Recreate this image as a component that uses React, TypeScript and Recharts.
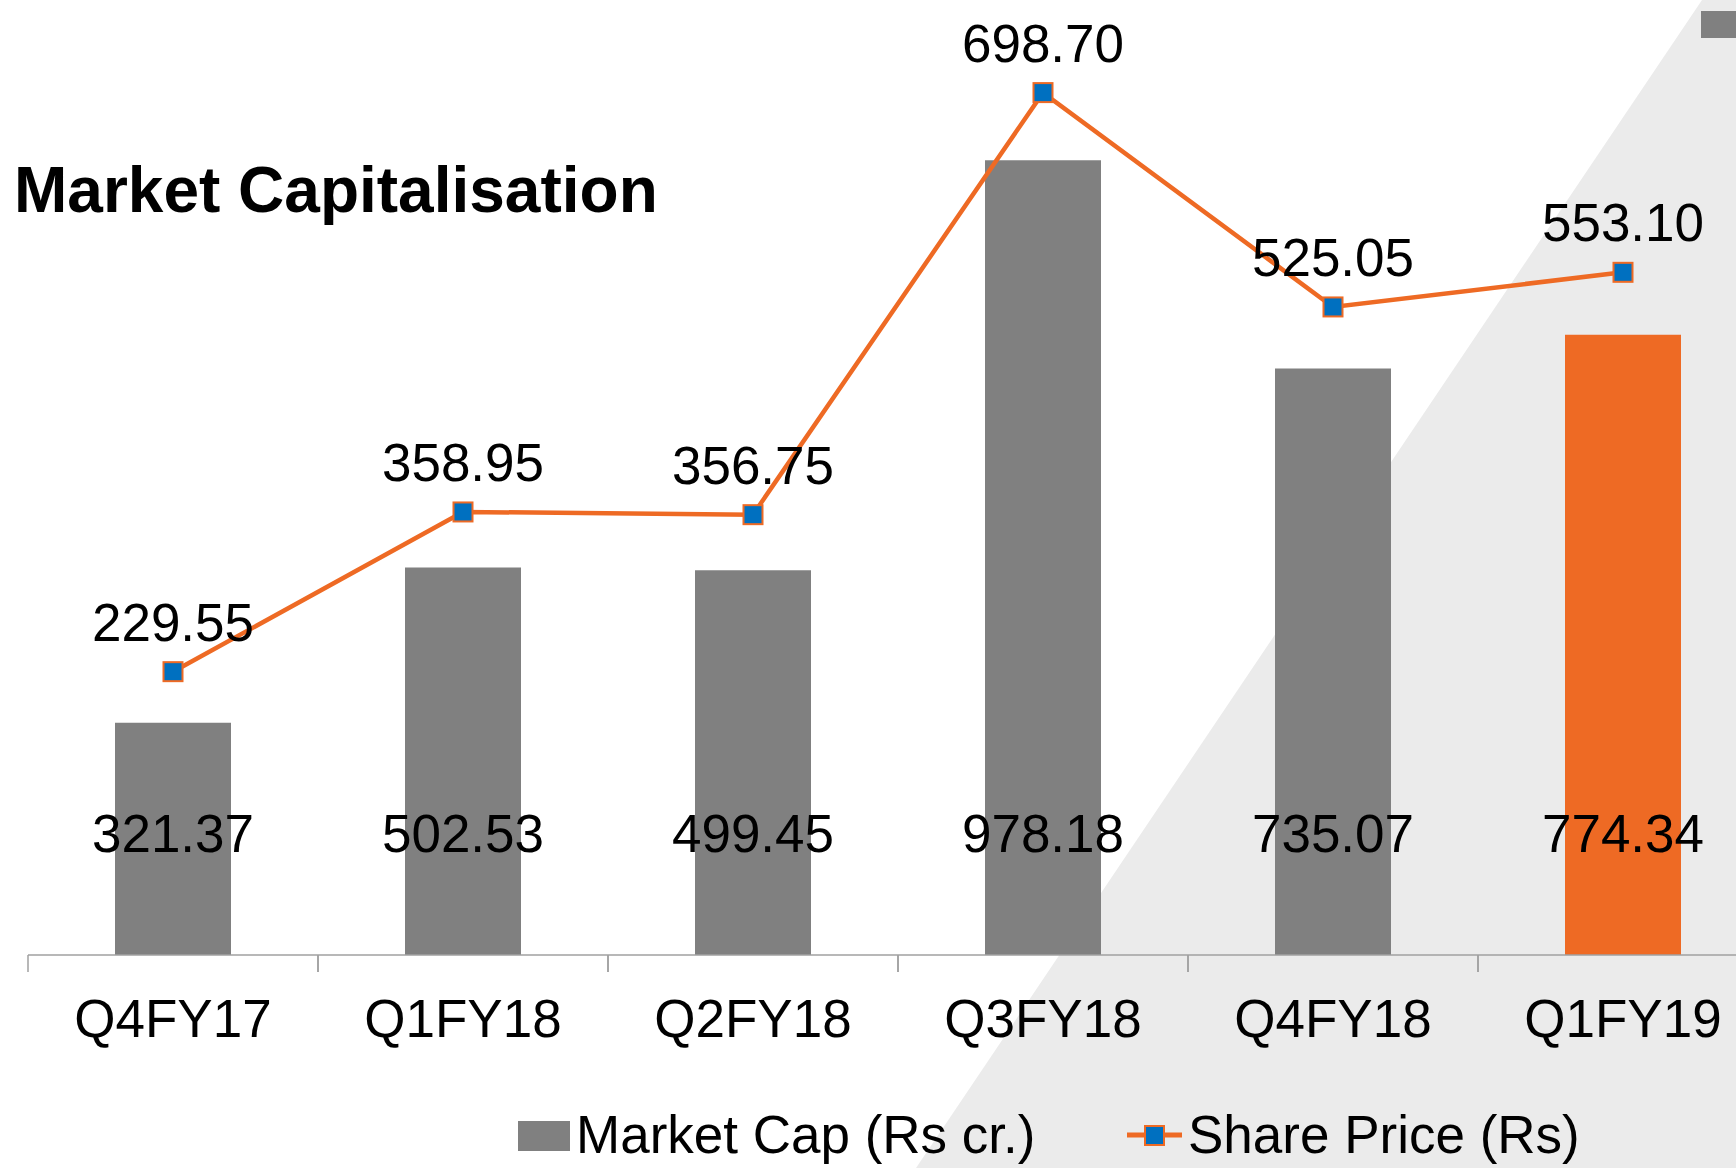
import React from 'react';
import {
  ComposedChart,
  Bar,
  Line,
  Cell,
  XAxis,
  YAxis,
  Legend,
  LabelList,
} from 'recharts';

const quarters = ['Q4FY17', 'Q1FY18', 'Q2FY18', 'Q3FY18', 'Q4FY18', 'Q1FY19'];
const marketCap = [321.37, 502.53, 499.45, 978.18, 735.07, 774.34];
const sharePrice = [229.55, 358.95, 356.75, 698.7, 525.05, 553.1];

const GREY = '#808080';
const ORANGE = '#EE6A24';
const BLUE = '#0070C0';
const AXIS = '#A0A0A0';
const FONT = '"Liberation Sans", Arial, sans-serif';

const data = quarters.map((q, i) => ({
  quarter: q,
  cap: marketCap[i],
  price: sharePrice[i],
}));

const CategoryTick = (props: any) => {
  const { x, y, payload } = props;
  const half = payload && payload.offset ? payload.offset : 145;
  return (
    <g>
      <line x1={x - half} x2={x - half} y1={y} y2={y + 17} stroke={AXIS} strokeWidth={1.5} />
      <line x1={x + half} x2={x + half} y1={y} y2={y + 17} stroke={AXIS} strokeWidth={1.5} />
      <text x={x} y={y + 82} textAnchor="middle" fontSize={53} fill="#000" fontFamily={FONT}>
        {payload.value}
      </text>
    </g>
  );
};

const PriceDot = (props: any) => {
  const { cx, cy } = props;
  if (cx == null || cy == null) return null;
  return (
    <rect x={cx - 9.5} y={cy - 9.5} width={19} height={19} fill={BLUE} stroke={ORANGE} strokeWidth={2} />
  );
};

const PriceLabel = (props: any) => {
  const { x, y, value } = props;
  return (
    <text x={x} y={y - 31} textAnchor="middle" fontSize={53} fill="#000" fontFamily={FONT}>
      {Number(value).toFixed(2)}
    </text>
  );
};

const CapLabel = (props: any) => {
  const { x, y, width, height, value } = props;
  return (
    <text x={x + width / 2} y={y + height - 103} textAnchor="middle" fontSize={53} fill="#000" fontFamily={FONT}>
      {Number(value).toFixed(2)}
    </text>
  );
};

const LegendContent = () => (
  <svg width={1200} height={70} style={{ display: 'block' }}>
    <rect x={18} y={21} width={52} height={30} fill={GREY} />
    <text x={76} y={53} fontSize={53} fontFamily={FONT} fill="#000">
      Market Cap (Rs cr.)
    </text>
    <line x1={627} x2={682} y1={35} y2={35} stroke={ORANGE} strokeWidth={5} />
    <rect x={645} y={26} width={19} height={19} fill={BLUE} stroke={ORANGE} strokeWidth={2} />
    <text x={688} y={53} fontSize={53} fontFamily={FONT} fill="#000">
      Share Price (Rs)
    </text>
  </svg>
);

export default function App() {
  return (
    <div
      style={{
        position: 'fixed',
        left: 0,
        top: 0,
        width: 1736,
        height: 1168,
        overflow: 'hidden',
        background: '#fff',
        fontFamily: FONT,
      }}
    >
      {/* light grey diagonal backdrop */}
      <div
        style={{
          position: 'absolute',
          inset: 0,
          background: '#EBEBEB',
          clipPath: 'polygon(1702px 0, 1736px 0, 1736px 1168px, 916px 1168px)',
        }}
      />
      <div style={{ position: 'absolute', left: 1701, top: 11, width: 40, height: 27, background: GREY }} />
      <div style={{ position: 'absolute', left: 0, top: 0 }}>
        <ComposedChart
          width={1780}
          height={1168}
          data={data}
          margin={{ top: 91, right: 12, left: 28, bottom: 0 }}
        >
          <XAxis
            dataKey="quarter"
            height={213}
            interval={0}
            tickSize={0}
            tickMargin={0}
            tickLine={false}
            axisLine={{ stroke: AXIS, strokeWidth: 1.5 }}
            tick={<CategoryTick />}
          />
          <YAxis yAxisId="cap" hide domain={[50, 1059]} allowDataOverflow />
          <YAxis yAxisId="price" hide orientation="right" domain={[0, 700]} />
          <Legend
            layout="horizontal"
            verticalAlign="middle"
            align="center"
            wrapperStyle={{ top: 1100, left: 500, width: 1200 }}
            content={<LegendContent />}
          />
          <Bar dataKey="cap" yAxisId="cap" barSize={116} isAnimationActive={false}>
            {data.map((d, i) => (
              <Cell key={d.quarter} fill={i === data.length - 1 ? ORANGE : GREY} />
            ))}
            <LabelList dataKey="cap" content={<CapLabel />} />
          </Bar>
          <Line
            dataKey="price"
            yAxisId="price"
            type="linear"
            stroke={ORANGE}
            strokeWidth={4.5}
            dot={<PriceDot />}
            activeDot={false}
            isAnimationActive={false}
          >
            <LabelList dataKey="price" content={<PriceLabel />} />
          </Line>
        </ComposedChart>
      </div>
      <svg
        width={700}
        height={240}
        style={{ position: 'absolute', left: 0, top: 0, pointerEvents: 'none' }}
      >
        <text x={14} y={212} fontSize={64} fontWeight="bold" fontFamily={FONT} fill="#000">
          Market Capitalisation
        </text>
      </svg>
    </div>
  );
}
